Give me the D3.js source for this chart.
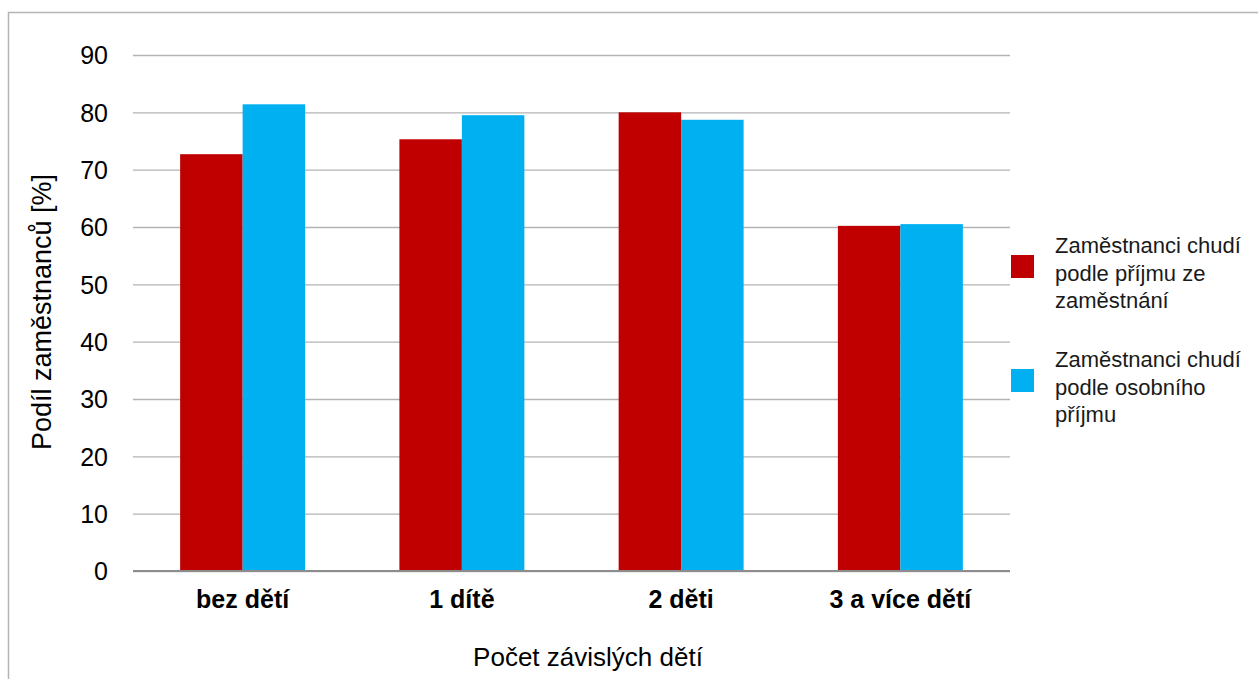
<!DOCTYPE html>
<html>
<head>
<meta charset="utf-8">
<script src="https://cdn.jsdelivr.net/npm/d3@7"></script>
<style>
  html, body { margin: 0; padding: 0; background: #fff; }
  svg { display: block; font-family: "Liberation Sans", Arial, sans-serif; }
</style>
</head>
<body>
<svg id="chart" width="1258" height="679"></svg>
<script>
const categories = ["bez dětí", "1 dítě", "2 děti", "3 a více dětí"];
const seriesNames = [
  ["Zaměstnanci chudí", "podle příjmu ze", "zaměstnání"],
  ["Zaměstnanci chudí", "podle osobního", "příjmu"]
];
const seriesEmployment = [72.7, 75.3, 80.0, 60.2];
const seriesPersonal = [81.4, 79.5, 78.7, 60.5];
const colors = ["#C00000", "#00B0F0"];
const yTicks = [0, 10, 20, 30, 40, 50, 60, 70, 80, 90];
const yTitle = "Podíl zaměstnanců [%]";
const xTitle = "Počet závislých dětí";

const svg = d3.select("#chart");
const W = 1258, H = 679;
const plot = { left: 133, right: 1010, top: 55, bottom: 571 };

// outer frame (extends beyond viewport)
svg.append("rect")
  .attr("x", 8.5).attr("y", 12.5)
  .attr("width", W + 20).attr("height", H + 20)
  .attr("fill", "none").attr("stroke", "#b4b4b4").attr("stroke-width", 1.5);

const y = d3.scaleLinear().domain([0, 90]).range([plot.bottom, plot.top]);
const x0 = d3.scaleBand().domain(categories).range([plot.left, plot.right])
  .paddingInner(0.43).paddingOuter(0.215);
const x1 = d3.scaleBand().domain([0, 1]).range([0, x0.bandwidth()]).padding(0);

// gridlines
const yAxis = d3.axisLeft(y).tickValues(yTicks).tickSize(-(plot.right - plot.left)).tickPadding(25);
const gy = svg.append("g").attr("transform", `translate(${plot.left},0)`).call(yAxis);
gy.select(".domain").remove();
gy.selectAll(".tick line").attr("stroke", "#b3b3b3").attr("stroke-width", 1.3);
gy.selectAll(".tick text").attr("font-size", 25).attr("fill", "#000")
  .attr("font-family", "Liberation Sans, Arial, sans-serif").attr("dy", "0.35em");

// bars
const data = categories.map((c, i) => ({ c, v: [seriesEmployment[i], seriesPersonal[i]] }));
const groups = svg.append("g").selectAll("g").data(data).join("g")
  .attr("transform", d => `translate(${x0(d.c)},0)`);
groups.selectAll("rect").data(d => d.v.map((v, k) => ({ v, k }))).join("rect")
  .attr("x", d => x1(d.k))
  .attr("width", x1.bandwidth())
  .attr("y", d => y(d.v))
  .attr("height", d => y(0) - y(d.v))
  .attr("fill", d => colors[d.k]);

// baseline axis
const xAxis = d3.axisBottom(x0).tickSize(0).tickPadding(22);
const gx = svg.append("g").attr("transform", `translate(0,${plot.bottom})`).call(xAxis);
gx.select(".domain").attr("stroke", "#8c8c8c").attr("stroke-width", 2)
  .attr("d", `M${plot.left},0H${plot.right}`);
gx.selectAll(".tick text").attr("font-size", 25).attr("font-weight", "bold").attr("fill", "#000")
  .attr("font-family", "Liberation Sans, Arial, sans-serif").attr("dy", "0.6em");

// axis titles
svg.append("text")
  .attr("transform", `translate(51,312) rotate(-90)`)
  .attr("text-anchor", "middle").attr("font-size", 27).attr("fill", "#000")
  .text(yTitle);
svg.append("text")
  .attr("x", 588).attr("y", 666)
  .attr("text-anchor", "middle").attr("font-size", 26).attr("fill", "#000")
  .text(xTitle);

// legend
const legend = svg.append("g");
const legendY = [255, 369];
seriesNames.forEach((lines, k) => {
  legend.append("rect").attr("x", 1011).attr("y", legendY[k]).attr("width", 23).attr("height", 23)
    .attr("fill", colors[k]);
  const t = legend.append("text").attr("x", 1055).attr("y", legendY[k] - 2)
    .attr("font-size", 22).attr("fill", "#1a1a1a");
  lines.forEach((ln, j) => {
    t.append("tspan").attr("x", 1055).attr("dy", j === 0 ? 0 : 27.5).text(ln);
  });
});
</script>
</body>
</html>
